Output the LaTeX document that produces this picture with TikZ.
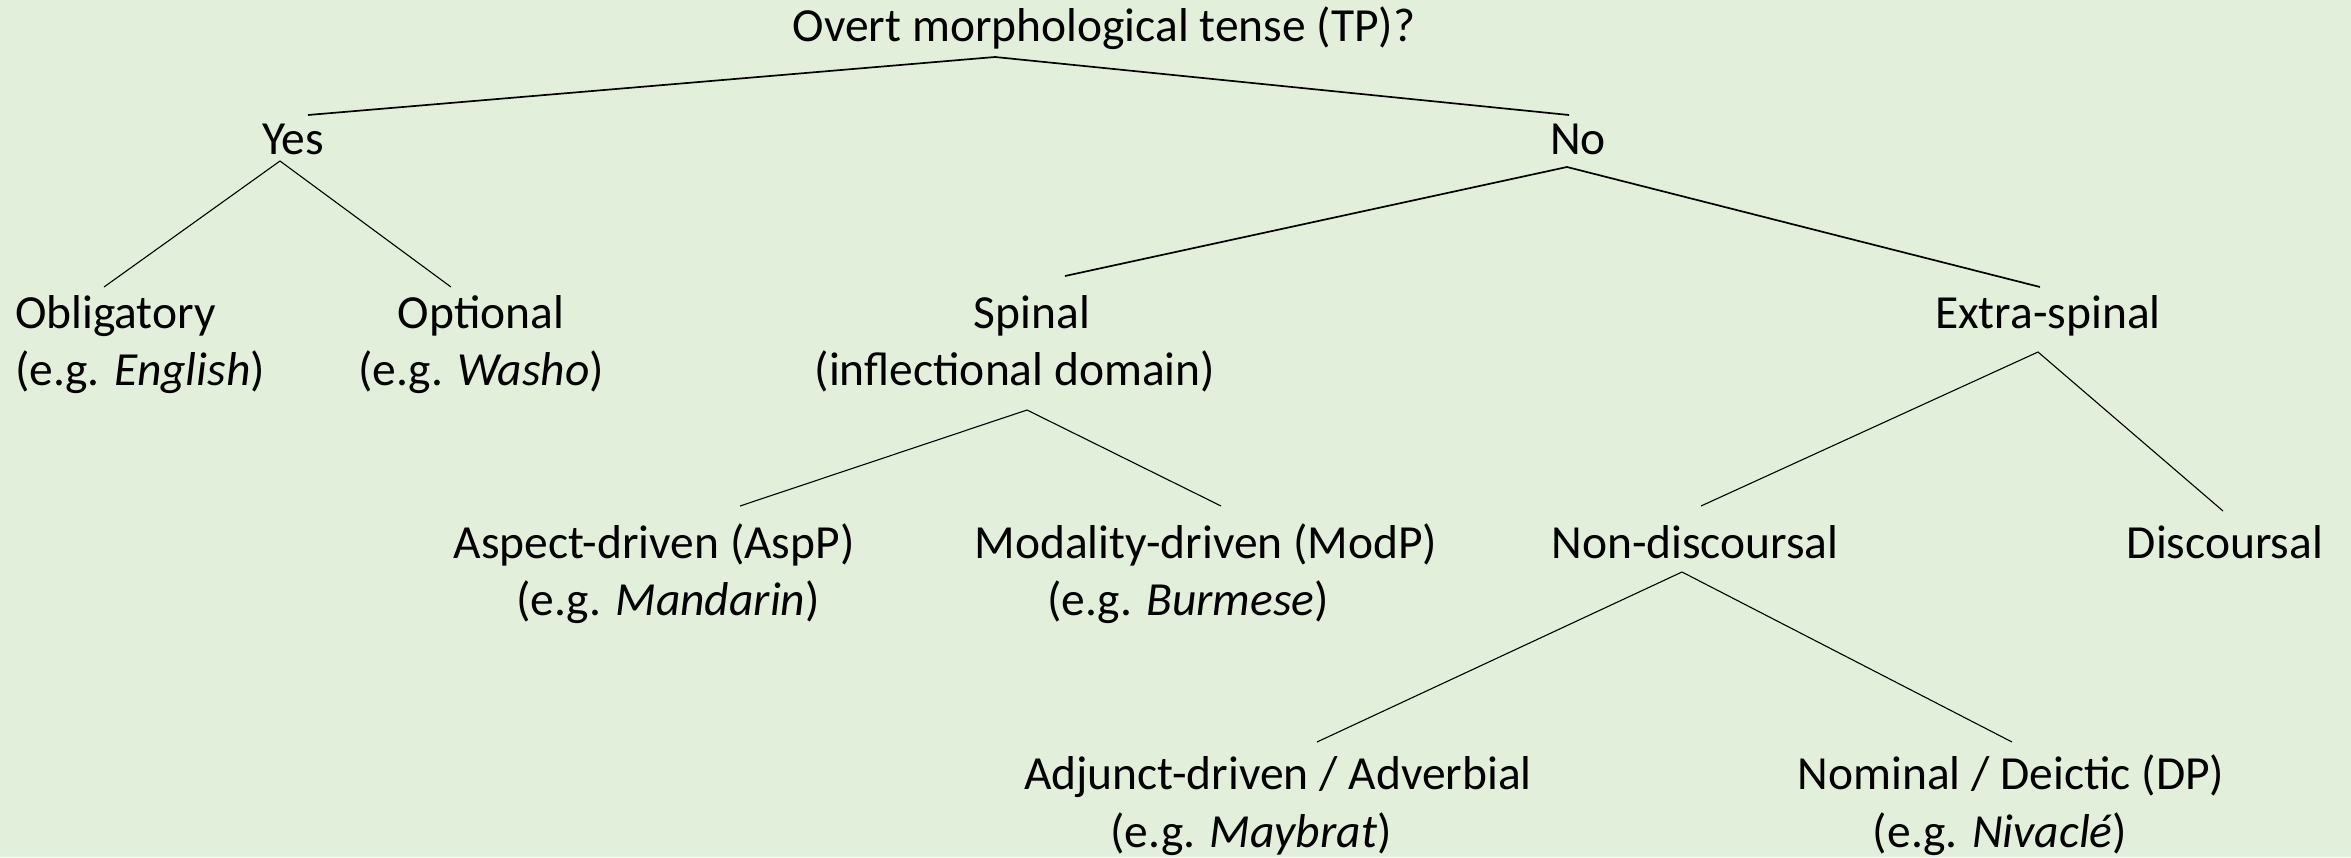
\documentclass[tikz,border=0pt]{standalone}
\usepackage{fontspec}
\setmainfont{Carlito}
\definecolor{bg}{HTML}{E2EFDA}
\begin{document}
\begin{tikzpicture}[x=1pt,y=-1pt,
  lbl/.style={inner sep=0pt, outer sep=0pt, anchor=base, font=\fontsize{47.5}{57}\selectfont, text=black},
  lblL/.style={lbl, anchor=base west},
  thick branch/.style={draw=black, line width=1.7pt},
  thin branch/.style={draw=black, line width=1.1pt}]
\path[fill=bg, use as bounding box] (0,0) rectangle (2351,857);
% labels
\node[lbl] (root) at (1104,41) {Overt morphological tense (TP)?};
\node[lbl] (yes) at (293,154) {Yes};
\node[lbl] (no) at (1578,154) {No};
\node[lblL] (oblig) at (15,328) {Obligatory};
\node[lblL] (obligeg) at (15,385) {(e.g. \textit{English})};
\node[lbl] (opt) at (481,328) {Optional};
\node[lbl] (opteg) at (481,385) {(e.g. \textit{Washo})};
\node[lbl] (spinal) at (1032,328) {Spinal};
\node[lbl] (spinaleg) at (1015,385) {(inflectional domain)};
\node[lbl] (extra) at (2048,328) {Extra-spinal};
\node[lbl] (aspect) at (654,558) {Aspect-driven (AspP)};
\node[lbl] (aspecteg) at (668,615) {(e.g. \textit{Mandarin})};
\node[lbl] (modal) at (1206,558) {Modality-driven (ModP)};
\node[lbl] (modaleg) at (1188,615) {(e.g. \textit{Burmese})};
\node[lbl] (nondisc) at (1695,558) {Non-discoursal};
\node[lbl] (disc) at (2225,558) {Discoursal};
\node[lbl] (adjunct) at (1278,789) {Adjunct-driven / Adverbial};
\node[lbl] (adjuncteg) at (1251,847) {(e.g. \textit{Maybrat})};
\node[lbl] (nominal) at (2011,789) {Nominal / Deictic (DP)};
\node[lbl] (nominaleg) at (2000,847) {(e.g. \textit{Nivaclé})};
% connector end points
\coordinate (root-b) at (995,57);
\coordinate (yes-t) at (308,115);
\coordinate (no-t) at (1569,115);
\coordinate (yes-b) at (280,161);
\coordinate (oblig-t) at (104,287);
\coordinate (opt-t) at (451,287);
\coordinate (no-b) at (1567,167);
\coordinate (spinal-t) at (1065,276);
\coordinate (extra-t) at (2040,287);
\coordinate (spinal-b) at (1027,410);
\coordinate (aspect-t) at (740,506);
\coordinate (modal-t) at (1221,506);
\coordinate (extra-b) at (2038,352);
\coordinate (nondisc-t) at (1701,506);
\coordinate (disc-t) at (2223,511);
\coordinate (nondisc-b) at (1682,572);
\coordinate (adjunct-t) at (1317,742);
\coordinate (nominal-t) at (2012,742);
% connectors
\draw[thick branch] (yes-t) -- (root-b) -- (no-t);
\draw[thin branch] (oblig-t) -- (yes-b) -- (opt-t);
\draw[thick branch] (spinal-t) -- (no-b) -- (extra-t);
\draw[thin branch] (aspect-t) -- (spinal-b) -- (modal-t);
\draw[thin branch] (nondisc-t) -- (extra-b) -- (disc-t);
\draw[thin branch] (adjunct-t) -- (nondisc-b) -- (nominal-t);
\end{tikzpicture}
\end{document}
